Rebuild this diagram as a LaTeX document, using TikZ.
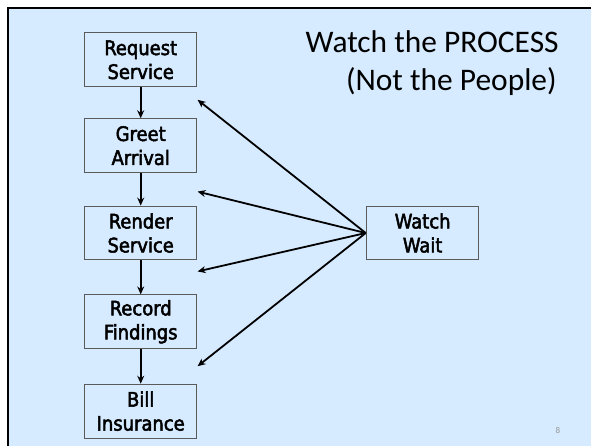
\documentclass[tikz,border=0pt]{standalone}
\usepackage{fontspec}
\setmainfont{DejaVu Sans Condensed}
\newfontfamily\boxfont{DejaVu Sans Condensed}[FakeBold=2.5]
\newfontfamily\titlefont{Carlito}
\usetikzlibrary{arrows.meta}
\definecolor{slidebg}{RGB}{214,235,255}
\definecolor{boxline}{RGB}{90,90,90}
\definecolor{pagenum}{RGB}{150,150,150}
\tikzset{
  stepbox/.style={draw=boxline, line width=1pt, minimum width=112pt, minimum height=54pt,
    inner sep=0pt, align=center, font=\boxfont\fontsize{20}{24}\selectfont},
  flow/.style={line width=1.8pt, -{Stealth[length=8pt,width=7pt]}},
  watch/.style={line width=1.8pt, -{Stealth[length=8pt,width=7pt]}},
}
\begin{document}
\begin{tikzpicture}[x=1pt,y=-1pt]
  % slide area
  \fill[white] (0,0) rectangle (592,447);
  \fill[slidebg] (8,8) rectangle (592,447);
  \draw[line width=2.5pt] (8,447) -- (8,8) -- (592,8);
  \useasboundingbox (0,0) rectangle (592,447);

  % process column
  \node[stepbox] (req) at (141,60) {Request\\Service};
  \node[stepbox] (greet) at (141,146) {Greet\\Arrival};
  \node[stepbox] (render) at (141,233.5) {Render\\Service};
  \node[stepbox] (record) at (141,322.5) {Record\\Findings};
  \node[stepbox] (bill) at (141,412) {Bill\\Insurance};

  \draw[flow] (req) -- (greet);
  \draw[flow] (greet) -- (render);
  \draw[flow] (render) -- (record);
  \draw[flow] (record) -- (bill);

  % observer
  \node[stepbox, minimum width=113pt] (ww) at (423.5,233.5) {Watch\\Wait};

  \coordinate (t1) at (198,100);
  \coordinate (t2) at (198,192);
  \coordinate (t3) at (198,272);
  \coordinate (t4) at (198,367);
  \foreach \t in {t1,t2,t3,t4}
    \draw[watch] (ww.west) -- (\t);

  % title
  \node[anchor=base east, inner sep=0pt, font=\titlefont\fontsize{31.5}{38}\selectfont] (title1) at (560,53) {Watch the PROCESS};
  \node[anchor=base east, inner sep=0pt, font=\titlefont\fontsize{31.5}{38}\selectfont] (title2) at (558,91) {(Not the People)};

  % page number
  \node[anchor=base, inner sep=0pt, text=pagenum, font=\titlefont\fontsize{9}{11}\selectfont] (pg) at (559,434) {8};
\end{tikzpicture}
\end{document}
